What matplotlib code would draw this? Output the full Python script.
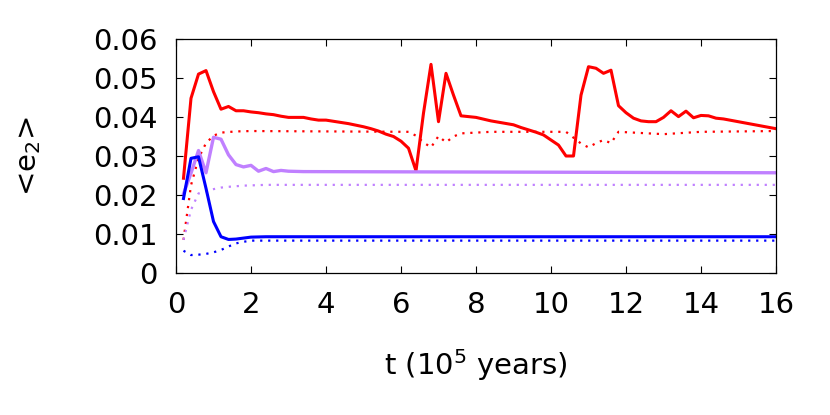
import matplotlib
matplotlib.use('Agg')
import matplotlib.pyplot as plt

# time in units of 1e5 years, mean e2
t_red = [0.2, 0.4, 0.6, 0.8, 1.0, 1.2, 1.4, 1.6, 1.8, 2.0, 2.2, 2.4, 2.6, 2.8, 3.0,
         3.4, 3.6, 3.8, 4.0, 4.2, 4.4, 4.6, 4.8, 5.0, 5.2, 5.4, 5.6, 5.8, 6.0, 6.2,
         6.4, 6.6, 6.8, 7.0, 7.2, 7.4, 7.6, 8.0, 8.4, 9.0, 9.2, 9.6, 9.8, 10.0, 10.2,
         10.4, 10.6, 10.8, 11.0, 11.2, 11.4, 11.6, 11.8, 12.0, 12.2, 12.4, 12.6, 12.8,
         13.0, 13.2, 13.4, 13.6, 13.8, 14.0, 14.2, 14.4, 14.6, 16.0]
e_red = [0.0243, 0.0448, 0.0510, 0.0519, 0.0465, 0.0420, 0.0427, 0.0416, 0.0416, 0.0413,
         0.0411, 0.0408, 0.0406, 0.0402, 0.0399, 0.0399, 0.0395, 0.0392, 0.0392, 0.0389,
         0.0386, 0.0383, 0.0379, 0.0375, 0.0370, 0.0364, 0.0356, 0.0350, 0.0338, 0.0320,
         0.0262, 0.0410, 0.0535, 0.0388, 0.0512, 0.0456, 0.0403, 0.0399, 0.0390, 0.0380,
         0.0373, 0.0361, 0.0354, 0.0341, 0.0328, 0.0300, 0.0300, 0.0456, 0.0529, 0.0525,
         0.0512, 0.0520, 0.0429, 0.0411, 0.0397, 0.0390, 0.0388, 0.0388, 0.0399, 0.0416,
         0.0401, 0.0415, 0.0398, 0.0404, 0.0403, 0.0397, 0.0395, 0.0370]

t_red_dot = [0.2, 0.4, 0.6, 0.8, 1.0, 1.2, 1.6, 2.0, 6.2, 6.4, 6.6, 6.8, 7.0, 7.2, 7.4,
             7.6, 8.4, 10.4, 10.8, 11.0, 11.2, 11.4, 11.6, 11.8, 13.0, 14.0, 16.0]
e_red_dot = [0.0085, 0.0225, 0.0294, 0.0333, 0.0352, 0.0360, 0.0363, 0.0364, 0.0362,
             0.0352, 0.0335, 0.0322, 0.0351, 0.0335, 0.0350, 0.0358, 0.0362, 0.0362,
             0.0332, 0.0322, 0.0333, 0.0341, 0.0333, 0.0362, 0.0356, 0.0362, 0.0364]

t_blue = [0.2, 0.4, 0.6, 0.8, 1.0, 1.2, 1.4, 1.6, 2.0, 2.4, 16.0]
e_blue = [0.0191, 0.0294, 0.0298, 0.0217, 0.0132, 0.0093, 0.0086, 0.0087, 0.0092, 0.0093, 0.0093]

t_blue_dot = [0.2, 0.4, 0.6, 0.8, 1.0, 1.2, 1.4, 1.6, 1.8, 2.0, 2.4, 16.0]
e_blue_dot = [0.0057, 0.0046, 0.0047, 0.0049, 0.0053, 0.0059, 0.0068, 0.0076, 0.0080,
              0.0083, 0.0083, 0.0083]

t_purple = [0.2, 0.4, 0.6, 0.8, 1.0, 1.2, 1.4, 1.6, 1.8, 2.0, 2.2, 2.4, 2.6, 2.8, 3.0, 3.4, 16.0]
e_purple = [0.0203, 0.0256, 0.0314, 0.0257, 0.0348, 0.0343, 0.0303, 0.0278, 0.0272, 0.0276,
            0.0261, 0.0268, 0.0260, 0.0263, 0.0261, 0.0260, 0.0257]

t_purple_dot = [0.2, 0.4, 0.6, 0.8, 1.0, 1.2, 1.4, 1.8, 2.4, 16.0]
e_purple_dot = [0.0085, 0.0162, 0.0204, 0.0210, 0.0215, 0.0219, 0.0221, 0.0224, 0.0226, 0.0226]

RED = '#ff0000'
BLUE = '#0000ff'
PURPLE = '#c080ff'
dots = (0, (1, 2.6))

fig = plt.figure(figsize=(8.3, 4.15), dpi=100)
ax = fig.add_axes([176/830, 1 - 273/415, 600/830, 234/415])

ax.plot(t_red_dot, e_red_dot, color=RED, lw=1.6, ls=dots)
ax.plot(t_purple_dot, e_purple_dot, color=PURPLE, lw=1.6, ls=dots)
ax.plot(t_blue_dot, e_blue_dot, color=BLUE, lw=1.6, ls=dots)
ax.plot(t_red, e_red, color=RED, lw=2.2)
ax.plot(t_purple, e_purple, color=PURPLE, lw=2.4)
ax.plot(t_blue, e_blue, color=BLUE, lw=2.2)

ax.set_xlim(0, 16)
ax.set_ylim(0, 0.06)
ax.set_xticks(range(0, 17, 2))
ax.set_yticks([0, 0.01, 0.02, 0.03, 0.04, 0.05, 0.06])
ax.set_yticklabels(['0', '0.01', '0.02', '0.03', '0.04', '0.05', '0.06'])
ax.tick_params(direction='in', length=5, width=0.8, top=True, right=True,
               labelsize=21, pad=13)
for s in ax.spines.values():
    s.set_linewidth(0.9)

ax.set_xlabel(r't (10$^5$ years)', fontsize=21, labelpad=20)
ax.set_ylabel(r'<e$_2$>', fontsize=21, labelpad=36)

plt.savefig('out.png', dpi=100)
